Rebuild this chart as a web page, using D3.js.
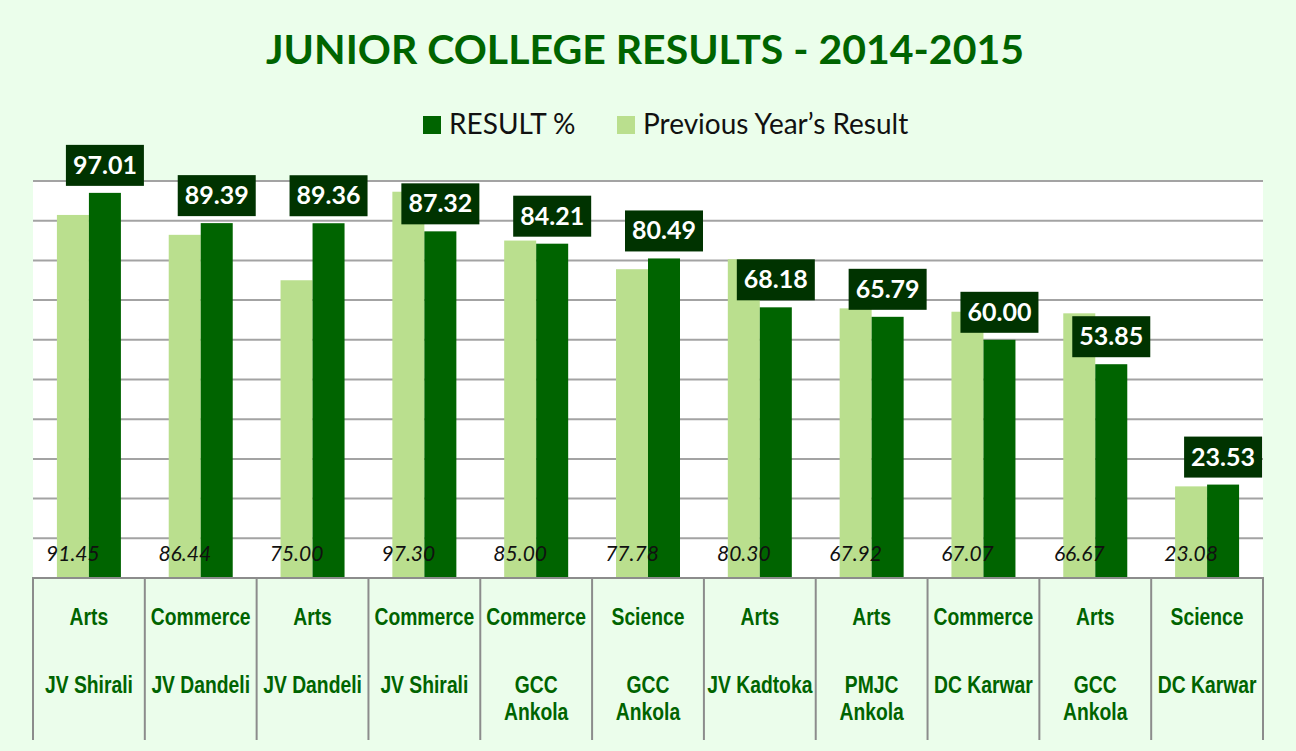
<!DOCTYPE html>
<html>
<head>
<meta charset="utf-8">
<script src="https://cdn.jsdelivr.net/npm/d3@7/dist/d3.min.js"></script>
<style>
  body { margin: 0; background: #ebfeeb; }
  svg { display: block; }
</style>
</head>
<body>
<svg width="1296" height="751"></svg>
<script>
// DATA

var streams = ["Arts", "Commerce", "Arts", "Commerce", "Commerce", "Science", "Arts", "Arts", "Commerce", "Arts", "Science"];
var colleges = ["JV Shirali", "JV Dandeli", "JV Dandeli", "JV Shirali", "GCC\nAnkola", "GCC\nAnkola", "JV Kadtoka", "PMJC\nAnkola", "DC Karwar", "GCC\nAnkola", "DC Karwar"];
var resultPct = [97.01, 89.39, 89.36, 87.32, 84.21, 80.49, 68.18, 65.79, 60.00, 53.85, 23.53];
var previousPct = [91.45, 86.44, 75.00, 97.30, 85.00, 77.78, 80.30, 67.92, 67.07, 66.67, 23.08];
var gridTicks = [10, 20, 30, 40, 50, 60, 70, 80, 90, 100];

var seriesNames = ["RESULT %", "Previous Year\u2019s Result"];
var darkGreen = "#006400", lightGreen = "#badf8e";

// SETUP

var svg = d3.select("svg"),
    plotLeft = 33, plotRight = 1263, plotTop = 181, base = 578, tableBottom = 740;

var idx = d3.range(resultPct.length);

var x = d3.scaleBand().domain(idx).range([plotLeft, plotRight]).padding(0);
var inner = d3.scaleBand().domain(["prev", "cur"]).range([0, 64]);
var off = (x.bandwidth() - 64) / 2;
var y = d3.scaleLinear().domain([0, 100]).range([base, plotTop]);

// background
svg.append("rect").attr("width", 1296).attr("height", 751).attr("fill", "#ebfeeb");
svg.append("rect")
    .attr("x", plotLeft).attr("y", plotTop)
    .attr("width", plotRight - plotLeft).attr("height", base - plotTop)
    .attr("fill", "#ffffff");

// title
svg.append("text")
    .attr("x", 645).attr("y", 64)
    .attr("text-anchor", "middle")
    .style("font-family", "Lato, 'Open Sans', sans-serif")
    .style("font-weight", "bold")
    .style("font-size", "41px")
    .attr("fill", darkGreen)
    .text("JUNIOR COLLEGE RESULTS - 2014-2015");

// legend
var legend = [
  { name: seriesNames[0], color: darkGreen, x: 423 },
  { name: seriesNames[1], color: lightGreen, x: 617 }
];
var lg = svg.selectAll(".lg").data(legend).enter().append("g").attr("class", "lg");
lg.append("rect")
    .attr("x", function (d) { return d.x; }).attr("y", 116)
    .attr("width", 18).attr("height", 18)
    .attr("fill", function (d) { return d.color; });
lg.append("text")
    .attr("x", function (d) { return d.x + 26; }).attr("y", 134)
    .style("font-family", "Lato, sans-serif")
    .style("font-size", "28px")
    .attr("fill", "#111")
    .text(function (d) { return d.name; });

// gridlines
svg.append("g").selectAll("line")
    .data(gridTicks)
    .enter().append("line")
    .attr("x1", plotLeft).attr("x2", plotRight)
    .attr("y1", function (d) { return y(d); })
    .attr("y2", function (d) { return y(d); })
    .attr("stroke", "#a3a3a3")
    .attr("stroke-width", 2);

// bars
var groups = svg.append("g").selectAll("g")
    .data(idx)
    .enter().append("g")
    .attr("transform", function (i) { return "translate(" + (x(i) + off) + ",0)"; });

groups.append("rect")
    .attr("x", inner("prev"))
    .attr("y", function (i) { return y(previousPct[i]); })
    .attr("width", inner.bandwidth())
    .attr("height", function (i) { return base - y(previousPct[i]); })
    .attr("fill", lightGreen);

groups.append("rect")
    .attr("x", inner("cur"))
    .attr("y", function (i) { return y(resultPct[i]); })
    .attr("width", inner.bandwidth())
    .attr("height", function (i) { return base - y(resultPct[i]); })
    .attr("fill", darkGreen);

// previous year labels (italic, at the bottom)
groups.append("text")
    .attr("x", inner("prev") + inner.bandwidth() / 2)
    .attr("y", 561)
    .attr("text-anchor", "middle")
    .style("font-family", "Lato, sans-serif")
    .style("font-style", "italic")
    .style("font-size", "21px")
    .attr("fill", "#111")
    .text(function (i) { return previousPct[i].toFixed(2); });

// result labels (boxes)
var lab = groups.append("g")
    .attr("transform", function (i) {
      return "translate(" + (inner("cur") + inner.bandwidth() / 2) + "," + (y(resultPct[i]) - 7) + ")";
    });
lab.append("rect")
    .attr("x", -39).attr("y", -41)
    .attr("width", 78).attr("height", 41)
    .attr("fill", "#003300");
lab.append("text")
    .attr("x", 0).attr("y", -12)
    .attr("text-anchor", "middle")
    .style("font-family", "Lato, sans-serif")
    .style("font-weight", "bold")
    .style("font-size", "25px")
    .attr("fill", "#ffffff")
    .text(function (i) { return resultPct[i].toFixed(2); });

// category table
svg.append("rect")
    .attr("x", plotLeft).attr("y", base)
    .attr("width", plotRight - plotLeft).attr("height", tableBottom - base)
    .attr("fill", "#ebfdeb");

svg.append("g").selectAll("line")
    .data(idx.concat([idx.length]))
    .enter().append("line")
    .attr("x1", function (i) { return i < idx.length ? x(i) : plotRight; })
    .attr("x2", function (i) { return i < idx.length ? x(i) : plotRight; })
    .attr("y1", base).attr("y2", tableBottom)
    .attr("stroke", "#8c8c8c")
    .attr("stroke-width", 2);

svg.append("line")
    .attr("x1", plotLeft - 1).attr("x2", plotRight + 1)
    .attr("y1", base).attr("y2", base)
    .attr("stroke", "#8c8c8c")
    .attr("stroke-width", 2);

// narrow look: Liberation Sans squeezed horizontally
var cats = svg.append("g").selectAll("g")
    .data(idx)
    .enter().append("g")
    .attr("transform", function (i) { return "translate(" + (x(i) + x.bandwidth() / 2) + ",0) scale(0.84,1)"; })
    .style("font-family", "'Liberation Sans', Arial, sans-serif")
    .style("font-weight", "bold")
    .style("font-size", "23px")
    .attr("fill", darkGreen)
    .attr("text-anchor", "middle");

cats.append("text")
    .attr("y", 625)
    .text(function (i) { return streams[i]; });

cats.append("text")
    .attr("y", 693)
    .selectAll("tspan")
    .data(function (i) { return colleges[i].split("\n"); })
    .enter().append("tspan")
    .attr("x", 0)
    .attr("dy", function (d, k) { return k === 0 ? 0 : 27; })
    .text(function (d) { return d; });
</script>
</body>
</html>
